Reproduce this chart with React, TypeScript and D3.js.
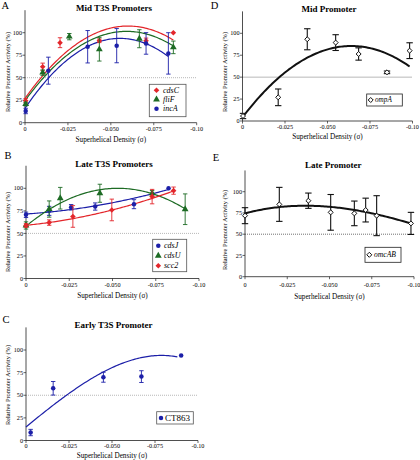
import React from 'react';
import * as d3 from 'd3';

// ---------------- Data ----------------
const xTicks = [0, -0.025, -0.05, -0.075, -0.1];
const xTickLabels = ['0', '-0.025', '-0.050', '-0.075', '-0.10'];
const yTicks = [0, 25, 50, 75, 100];
const yTickLabels = ['0', '25', '50', '75', '100'];

// Panel A – Mid T3S promoters
const aCdsCSigma = [-0.0004, -0.0103, -0.0204, -0.0433, -0.0705, -0.0864];
const aCdsCAct = [24.4, 62.2, 88.9, 91, 91, 100];
const aCdsCErr = [2.5, 4, 5.5, 2, 3, 0];
const aCdsCFit = [27.0, -2680, -22333];
const aFliFSigma = [-0.0004, -0.0103, -0.0258, -0.0433, -0.0666, -0.0864];
const aFliFAct = [20.7, 55.6, 95.6, 81.5, 93.3, 83.7];
const aFliFErr = [2, 3, 3.5, 13, 10, 7];
const aFliFFit = [24.5, -2601, -21970];
const aIncASigma = [-0.0004, -0.0136, -0.0365, -0.0534, -0.0705, -0.0835];
const aIncAAct = [13, 57.8, 84.4, 85.6, 88.1, 77];
const aIncAErr = [3, 15, 18, 19, 12, 23];
const aIncAFit = [16, -2810, -25409];

// Panel B – Late T3S promoters
const bCdsJSigma = [0, -0.0134, -0.0261, -0.04, -0.0624, -0.0824];
const bCdsJAct = [70.6, 75, 79, 79.8, 82.4, 100];
const bCdsJErr = [3, 5, 3, 4, 5, 0];
const bCdsJFit = [71.5, -127, 2464];
const bCdsUSigma = [0, -0.0134, -0.0198, -0.0427, -0.0729, -0.092];
const bCdsUAct = [58.8, 77, 89, 94.5, 94.5, 76.8];
const bCdsUErr = [4, 9, 12, 10, 3, 17];
const bCdsUFit = [58.0, -1585, -14952];
const bScc2Sigma = [0, -0.0134, -0.0271, -0.0496, -0.0729, -0.0853];
const bScc2Act = [58.8, 62, 68.8, 76, 90.8, 97.4];
const bScc2Err = [2, 3, 12, 12, 8, 4];
const bScc2Fit = [59, -191, 2989];

// Panel C – Early T3S promoter
const cCT863Sigma = [-0.0027, -0.0158, -0.045, -0.0671, -0.0902];
const cCT863Act = [8.8, 57.7, 69.9, 70.6, 93.8];
const cCT863Err = [3.5, 7.5, 5.5, 6.5, 0];
const cCT863Fit = [15, -1560, -1414, 71818];

// Panel D – Mid promoter
const dOmpASigma = [-0.0003, -0.021, -0.0381, -0.0548, -0.0683, -0.085, -0.0983];
const dOmpAAct = [5.7, 27, 93.2, 89.4, 76.4, 55.5, 80.2];
const dOmpAErr = [3, 9.5, 12, 9, 7, 1.5, 9];
const dOmpAFit = [4.2, -2541, -19850];

// Panel E – Late promoter
const eOmcABSigma = [0, -0.0203, -0.0375, -0.0507, -0.0647, -0.0714, -0.0779, -0.0982];
const eOmcABAct = [71.8, 85.1, 89.4, 75.7, 74.5, 78.4, 71.8, 62.7];
const eOmcABErr = [9.4, 20, 9, 21, 14.5, 14, 23.5, 13];
const eOmcABFit = [74.5, -526.9, -8321, -17508];

// ---------------- Styles ----------------
const RED = '#e3262b';
const GREEN = '#1d6b24';
const BLUE = '#1c1fa8';
const BLACK = '#111';
const FONT = '"Liberation Serif", "Times New Roman", serif';

const diamond = (d3 as any).symbolDiamond2 || d3.symbolDiamond;

type Series = {
  name: string; sigma: number[]; act: number[]; err: number[]; fit: number[]; fitEnd: number;
  color: string; shape: any; size: number; open?: boolean; italic?: boolean;
};

type Layout = {
  letter: string; letterX: number; letterY: number;
  title: string; titleX: number; titleY: number;
  xL: number; xR: number; y0: number; y100: number;
  tickY: number; xLabelY: number; yLabelX: number; yLabelY: number;
  legend: { x: number; y: number; w: number; h: number; rows: number[]; mx: number; tx: number; fs: number };
  bw: boolean;
};

const poly = (c: number[], x: number) => c.reduce((s, v, i) => s + v * Math.pow(x, i), 0);

function Panel({ L, series }: { L: Layout; series: Series[] }) {
  const x = d3.scaleLinear().domain([0, -0.1]).range([L.xL, L.xR]);
  const y = d3.scaleLinear().domain([0, 100]).range([L.y0, L.y100]);
  const line = d3.line<[number, number]>().x(d => x(d[0])).y(d => y(d[1])).curve(d3.curveLinear);
  const tickFs = 6.2;
  const capW = L.bw ? 3.2 : 2.2;
  return (
    <g fontFamily={FONT}>
      <text x={L.letterX} y={L.letterY} fontSize={10.5}>{L.letter}</text>
      <text x={L.titleX} y={L.titleY} fontSize={9} fontWeight="bold" textAnchor="middle">{L.title}</text>
      {/* reference line at 50 */}
      <line x1={x(0)} x2={x(-0.1)} y1={y(50)} y2={y(50)} stroke={L.bw ? '#333' : '#999'}
        strokeWidth={0.7} strokeDasharray="1,1" />
      {/* axes */}
      <line x1={x(0)} x2={x(0)} y1={y(0)} y2={y(125)} stroke="#222" strokeWidth={0.8} />
      <line x1={x(0)} x2={x(-0.1)} y1={y(0)} y2={y(0)} stroke="#222" strokeWidth={0.8} />
      {yTicks.map((t, i) => (
        <g key={'y' + i}>
          <line x1={x(0) - 2.5} x2={x(0)} y1={y(t)} y2={y(t)} stroke="#222" strokeWidth={0.7} />
          <text x={x(0) - 3} y={y(t) + 2.1} fontSize={tickFs} textAnchor="end">{yTickLabels[i]}</text>
        </g>
      ))}
      {xTicks.map((t, i) => (
        <g key={'x' + i}>
          <line x1={x(t)} x2={x(t)} y1={y(0)} y2={y(0) + 2.5} stroke="#222" strokeWidth={0.7} />
          <text x={x(t)} y={L.tickY} fontSize={tickFs} textAnchor="middle">{xTickLabels[i]}</text>
        </g>
      ))}
      <text x={(L.xL + L.xR) / 2} y={L.xLabelY} fontSize={7.2} textAnchor="middle">Superhelical Density (σ)</text>
      <text transform={`translate(${L.yLabelX},${L.yLabelY}) rotate(-90)`} fontSize={6.4} textAnchor="middle">
        Relative Promoter Activity (%)
      </text>
      {/* fits */}
      {series.map((s, si) => {
        const pts: [number, number][] = d3.range(0, 101).map(k => {
          const sg = (s.fitEnd * k) / 100;
          return [sg, poly(s.fit, sg)];
        });
        return <path key={'f' + si} d={line(pts) || ''} fill="none" stroke={s.color}
          strokeWidth={L.bw ? 2 : 1.2} />;
      })}
      {/* error bars + markers */}
      {series.map((s, si) => (
        <g key={'s' + si}>
          {s.sigma.map((sg, i) => s.err[i] > 0 ? (
            <g key={'e' + i} stroke={s.color} strokeWidth={L.bw ? 1.1 : 0.9}>
              <line x1={x(sg)} x2={x(sg)} y1={y(s.act[i] - s.err[i])} y2={y(s.act[i] + s.err[i])} />
              <line x1={x(sg) - capW} x2={x(sg) + capW} y1={y(s.act[i] - s.err[i])} y2={y(s.act[i] - s.err[i])} />
              <line x1={x(sg) - capW} x2={x(sg) + capW} y1={y(s.act[i] + s.err[i])} y2={y(s.act[i] + s.err[i])} />
            </g>
          ) : null)}
          {s.sigma.map((sg, i) => (
            <path key={'m' + i} transform={`translate(${x(sg)},${y(s.act[i])})`}
              d={d3.symbol().type(s.shape).size(s.size)() || ''}
              fill={s.open ? '#fff' : s.color} stroke={s.open ? s.color : 'none'} strokeWidth={1} />
          ))}
        </g>
      ))}
      {/* legend */}
      <rect x={L.legend.x} y={L.legend.y} width={L.legend.w} height={L.legend.h} fill="#fff"
        stroke={L.bw ? '#222' : '#555'} strokeWidth={0.8} />
      {series.map((s, si) => (
        <g key={'l' + si}>
          <path transform={`translate(${L.legend.mx},${L.legend.rows[si]})`}
            d={d3.symbol().type(s.shape).size(s.size)() || ''}
            fill={s.open ? '#fff' : s.color} stroke={s.open ? s.color : 'none'} strokeWidth={1} />
          <text x={L.legend.tx} y={L.legend.rows[si] + L.legend.fs * 0.33} fontSize={L.legend.fs}
            fontStyle={s.italic ? 'italic' : 'normal'}>{s.name}</text>
        </g>
      ))}
    </g>
  );
}

const seriesA: Series[] = [
  { name: 'cdsC', sigma: aCdsCSigma, act: aCdsCAct, err: aCdsCErr, fit: aCdsCFit, fitEnd: -0.0864, color: RED, shape: diamond, size: 20, italic: true },
  { name: 'fliF', sigma: aFliFSigma, act: aFliFAct, err: aFliFErr, fit: aFliFFit, fitEnd: -0.0864, color: GREEN, shape: d3.symbolTriangle, size: 20, italic: true },
  { name: 'incA', sigma: aIncASigma, act: aIncAAct, err: aIncAErr, fit: aIncAFit, fitEnd: -0.0835, color: BLUE, shape: d3.symbolCircle, size: 16, italic: true },
];
const seriesB: Series[] = [
  { name: 'cdsJ', sigma: bCdsJSigma, act: bCdsJAct, err: bCdsJErr, fit: bCdsJFit, fitEnd: -0.083, color: BLUE, shape: d3.symbolCircle, size: 16, italic: true },
  { name: 'cdsU', sigma: bCdsUSigma, act: bCdsUAct, err: bCdsUErr, fit: bCdsUFit, fitEnd: -0.092, color: GREEN, shape: d3.symbolTriangle, size: 20, italic: true },
  { name: 'scc2', sigma: bScc2Sigma, act: bScc2Act, err: bScc2Err, fit: bScc2Fit, fitEnd: -0.0853, color: RED, shape: diamond, size: 20, italic: true },
];
const seriesC: Series[] = [
  { name: 'CT863', sigma: cCT863Sigma, act: cCT863Act, err: cCT863Err, fit: cCT863Fit, fitEnd: -0.088, color: BLUE, shape: d3.symbolCircle, size: 16 },
];
const seriesD: Series[] = [
  { name: 'ompA', sigma: dOmpASigma, act: dOmpAAct, err: dOmpAErr, fit: dOmpAFit, fitEnd: -0.0983, color: BLACK, shape: diamond, size: 16, open: true, italic: true },
];
const seriesE: Series[] = [
  { name: 'omcAB', sigma: eOmcABSigma, act: eOmcABAct, err: eOmcABErr, fit: eOmcABFit, fitEnd: -0.0982, color: BLACK, shape: diamond, size: 16, open: true, italic: true },
];

const layoutA: Layout = {
  letter: 'A', letterX: 1.5, letterY: 9, title: 'Mid T3S Promoters', titleX: 114, titleY: 10.5,
  xL: 25, xR: 196.7, y0: 122.7, y100: 32.7, tickY: 130.5, xLabelY: 142, yLabelX: 9.5, yLabelY: 72,
  legend: { x: 149.3, y: 84.3, w: 36.7, h: 32.4, rows: [90.3, 99.5, 108.7], mx: 156.5, tx: 163, fs: 8 }, bw: false,
};
const layoutB: Layout = {
  letter: 'B', letterX: 4.5, letterY: 158.5, title: 'Late T3S Promoters', titleX: 114, titleY: 166.5,
  xL: 26, xR: 199, y0: 278.5, y100: 188.3, tickY: 287, xLabelY: 298, yLabelX: 9.5, yLabelY: 232,
  legend: { x: 152.7, y: 239.3, w: 34, h: 32.4, rows: [245.7, 255.7, 265.7], mx: 158.3, tx: 164, fs: 8 }, bw: false,
};
const layoutC: Layout = {
  letter: 'C', letterX: 2.5, letterY: 322.7, title: 'Early T3S Promoter', titleX: 113.5, titleY: 328,
  xL: 26, xR: 198, y0: 440.5, y100: 350, tickY: 447.5, xLabelY: 457.5, yLabelX: 9.5, yLabelY: 385,
  legend: { x: 156.7, y: 411.7, w: 36.6, h: 12.3, rows: [417.9], mx: 161, tx: 165, fs: 9 }, bw: false,
};
const layoutD: Layout = {
  letter: 'D', letterX: 210.7, letterY: 8.5, title: 'Mid Promoter', titleX: 329, titleY: 11.5,
  xL: 242.5, xR: 412.5, y0: 121, y100: 33.3, tickY: 128.7, xLabelY: 138.5, yLabelX: 227, yLabelY: 72,
  legend: { x: 366.7, y: 94, w: 35.6, h: 12, rows: [100], mx: 370.7, tx: 375, fs: 7.2 }, bw: true,
};
const layoutE: Layout = {
  letter: 'E', letterX: 212.7, letterY: 160.7, title: 'Late Promoter', titleX: 333.3, titleY: 168,
  xL: 245, xR: 414, y0: 276.7, y100: 191.7, tickY: 287, xLabelY: 299, yLabelX: 227, yLabelY: 230,
  legend: { x: 365, y: 247.3, w: 36, h: 15, rows: [254.8], mx: 369.3, tx: 374, fs: 7.6 }, bw: true,
};

export default function App() {
  return (
    <svg width={420} height={460} viewBox="0 0 420 460"
      style={{ position: 'absolute', left: 0, top: 0, background: '#fff' }}>
      <rect width={420} height={460} fill="#fff" />
      <Panel L={layoutA} series={seriesA} />
      <Panel L={layoutB} series={seriesB} />
      <Panel L={layoutC} series={seriesC} />
      <Panel L={layoutD} series={seriesD} />
      <Panel L={layoutE} series={seriesE} />
    </svg>
  );
}
